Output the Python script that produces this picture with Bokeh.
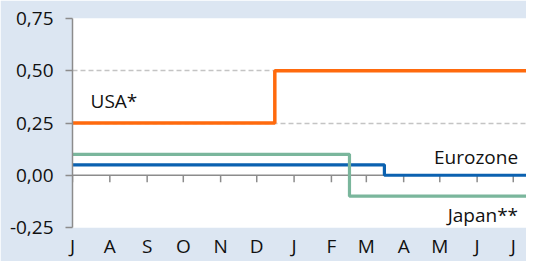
import math
import pandas as pd
from bokeh.plotting import figure
from bokeh.models import Range1d, FixedTicker, CustomJSTickFormatter, Label, Span
from bokeh.embed import file_html
from bokeh.resources import INLINE

# ---- data ----
month_starts = pd.date_range("2015-07-01", "2016-07-01", freq="MS")
month_labels = ["J", "A", "S", "O", "N", "D", "J", "F", "M", "A", "M", "J", "J"]
y_ticks = [-0.25, 0.0, 0.25, 0.50, 0.75]

usa_dates = pd.to_datetime(["2015-07-01", "2015-12-16", "2016-07-20"])
usa_rates = [0.25, 0.50, 0.50]
euro_dates = pd.to_datetime(["2015-07-01", "2016-03-16", "2016-07-20"])
euro_rates = [0.05, 0.00, 0.00]
japan_dates = pd.to_datetime(["2015-07-01", "2016-02-16", "2016-07-20"])
japan_rates = [0.10, -0.10, -0.10]

BG = "#dce6f2"
AXIS = "#8c8c8c"
FONT = "Open Sans"
FS = "19px"
TXT = "#111111"

x_start = pd.Timestamp("2015-07-01")
x_end = pd.Timestamp("2016-07-12")

p = figure(width=526, height=261, x_axis_type="datetime",
           x_range=Range1d(x_start, x_end), y_range=Range1d(-0.25, 0.75),
           output_backend="svg", toolbar_location=None,
           min_border_left=72, min_border_right=0, min_border_top=18, min_border_bottom=0)
p.background_fill_color = "white"
p.border_fill_color = BG
p.outline_line_color = None

tick_ms = [t.value / 1e6 for t in month_starts]

# bottom month label axis (no line, no ticks)
xa = p.xaxis[0]
xa.ticker = FixedTicker(ticks=tick_ms)
xa.formatter = CustomJSTickFormatter(args=dict(tvals=tick_ms, mnames=month_labels), code="""
    let best = -1, bd = Infinity;
    for (let i = 0; i < tvals.length; i++) {
        const d = Math.abs(tvals[i] - tick);
        if (d < bd) { bd = d; best = i; }
    }
    return best >= 0 ? mnames[best] : "";
""")
xa.axis_line_color = None
xa.major_tick_line_color = None
xa.minor_tick_line_color = None
xa.major_tick_in = 0
xa.major_tick_out = 0
xa.major_label_standoff = 5
xa.major_label_text_font = FONT
xa.major_label_text_font_size = FS
xa.major_label_text_color = TXT

ya = p.yaxis[0]
ya.ticker = FixedTicker(ticks=y_ticks)
ya.formatter = CustomJSTickFormatter(code="return tick.toFixed(2).replace('.', ',');")
ya.axis_line_color = AXIS
ya.axis_line_width = 1.5
ya.major_tick_line_color = AXIS
ya.major_tick_line_width = 1.5
ya.major_tick_in = 0
ya.major_tick_out = 7
ya.minor_tick_line_color = None
ya.major_label_standoff = 12
ya.major_label_text_font = FONT
ya.major_label_text_font_size = FS
ya.major_label_text_color = TXT

p.xgrid.grid_line_color = None
p.ygrid.ticker = FixedTicker(ticks=[-0.25, 0.25, 0.5, 0.75])
p.ygrid.grid_line_color = "#c4c4c4"
p.ygrid.grid_line_dash = "5 3"
p.ygrid.grid_line_width = 1.5

# zero line with downward month ticks
zero = Span(location=0, dimension="width", line_color=AXIS, line_width=1.5, level="underlay")
p.add_layout(zero)
p.ray(x=month_starts, y=[0] * len(month_starts), length=7, length_units="screen",
      angle=-math.pi / 2, line_color=AXIS, line_width=1.5)

p.step(usa_dates, usa_rates, mode="after", line_color="#ff6a0d", line_width=3.5)
p.step(euro_dates, euro_rates, mode="after", line_color="#0b61b0", line_width=3.2)
p.step(japan_dates, japan_rates, mode="after", line_color="#7ab69c", line_width=3.2)

def lab(txt, date, y, align):
    p.add_layout(Label(x=pd.Timestamp(date).value / 1e6, y=y, text=txt,
                       text_align=align, text_baseline="middle",
                       text_font=FONT, text_font_size=FS, text_color=TXT))

lab("USA*", "2015-07-16", 0.355, "left")
lab("Eurozone", "2016-07-05", 0.087, "right")
lab("Japan**", "2016-07-05", -0.188, "right")

open("out.html", "w").write(file_html(p, INLINE))
